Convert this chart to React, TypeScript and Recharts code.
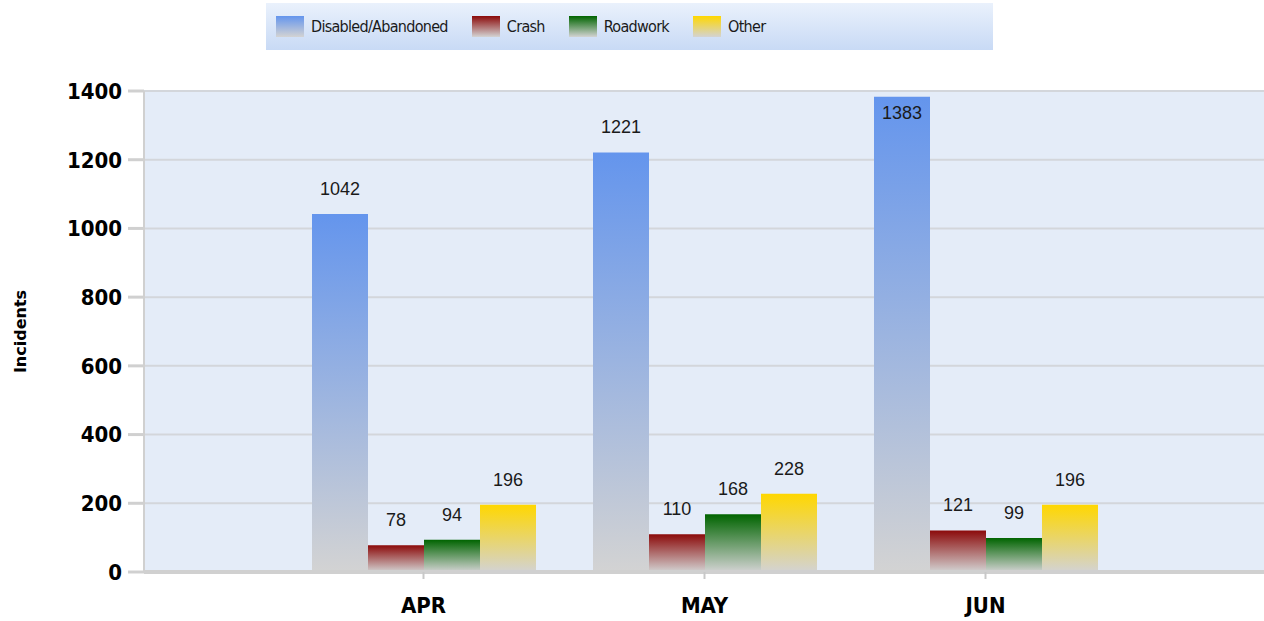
import { Bar, BarChart, CartesianGrid, LabelList, Label, XAxis, YAxis } from 'recharts'

const MONTHS = ['APR', 'MAY', 'JUN']
const DISABLED = [1042, 1221, 1383]
const CRASH = [78, 110, 121]
const ROADWORK = [94, 168, 99]
const OTHER = [196, 228, 196]
const Y_TICKS = [0, 200, 400, 600, 800, 1000, 1200, 1400]

const SERIES = [
  { key: 'disabled', name: 'Disabled/Abandoned', color: '#6495ED' },
  { key: 'crash', name: 'Crash', color: '#8B0A0A' },
  { key: 'roadwork', name: 'Roadwork', color: '#006400' },
  { key: 'other', name: 'Other', color: '#FFD700' },
]

const chartData = MONTHS.map((month, i) => ({
  month,
  disabled: DISABLED[i],
  crash: CRASH[i],
  roadwork: ROADWORK[i],
  other: OTHER[i],
}))

const PLOT_TOP = 91
const COND = '"DejaVu Sans Condensed", "DejaVu Sans", sans-serif'

function ValueLabel(props: any) {
  const { x, y, width, value } = props
  const cx = x + width / 2
  const inside = y - 32 < PLOT_TOP
  return (
    <text
      x={cx}
      y={inside ? y + 22 : y - 19}
      textAnchor="middle"
      fontFamily='"Liberation Sans", Arial, sans-serif'
      fontSize={18}
      fill="#1a1a1a"
    >
      {value}
    </text>
  )
}

function ChartLegend() {
  return (
    <div
      style={{
        position: 'absolute',
        left: 266,
        top: 3,
        width: 727,
        height: 47,
        boxSizing: 'border-box',
        paddingLeft: 10,
        display: 'flex',
        alignItems: 'center',
        background: 'linear-gradient(#EAF1FC, #C8DAF5)',
        fontFamily: COND,
        fontSize: 16,
        letterSpacing: -0.7,
        color: '#1a1a1a',
      }}
    >
      {SERIES.map((s) => (
        <div key={s.key} style={{ display: 'flex', alignItems: 'center', marginRight: 24 }}>
          <span
            style={{
              display: 'inline-block',
              width: 28,
              height: 21,
              marginRight: 7,
              background: `linear-gradient(${s.color}, #D3D3D3)`,
            }}
          />
          <span>{s.name}</span>
        </div>
      ))}
    </div>
  )
}

export default function App() {
  return (
    <div style={{ position: 'absolute', left: 0, top: 0, width: 1264, height: 621, background: '#fff' }}>
      <ChartLegend />
      <BarChart
        width={1264}
        height={621}
        data={chartData}
        margin={{ top: PLOT_TOP, right: 0, bottom: 0, left: 0 }}
        barGap={0}
        barSize={56}
      >
        <defs>
          {SERIES.map((s) => (
            <linearGradient key={s.key} id={`grad-${s.key}`} x1="0" y1="0" x2="0" y2="1">
              <stop offset="0%" stopColor={s.color} />
              <stop offset="100%" stopColor="#D3D3D3" />
            </linearGradient>
          ))}
        </defs>
        <CartesianGrid vertical={false} fill="#E4ECF8" stroke="#D3D6DB" strokeWidth={2} />
        <XAxis
          dataKey="month"
          height={49}
          padding={{ left: 139, right: 138 }}
          axisLine={{ stroke: '#D0D0D0', strokeWidth: 4 }}
          tickLine={{ stroke: '#C8C8C8', strokeWidth: 2 }}
          tickSize={7}
          tickMargin={18}
          tick={{ fill: '#000', fontSize: 22, fontWeight: 'bold', fontFamily: COND }}
        />
        <YAxis
          width={144}
          domain={[0, 1400]}
          ticks={Y_TICKS}
          interval={0}
          axisLine={{ stroke: '#D0D0D0', strokeWidth: 2 }}
          tickLine={{ stroke: '#D0D0D0', strokeWidth: 3 }}
          tickSize={16}
          tickMargin={6}
          tick={{ fill: '#000', fontSize: 22, fontWeight: 'bold', fontFamily: COND }}
        >
          <Label
            value="Incidents"
            angle={-90}
            position="insideLeft"
            offset={20}
            style={{ textAnchor: 'middle', fontSize: 16, fontWeight: 'bold', fontFamily: '"DejaVu Sans", sans-serif', fill: '#000' }}
          />
        </YAxis>
        {SERIES.map((s) => (
          <Bar key={s.key} dataKey={s.key} name={s.name} fill={`url(#grad-${s.key})`} isAnimationActive={false}>
            <LabelList dataKey={s.key} content={ValueLabel} />
          </Bar>
        ))}
      </BarChart>
    </div>
  )
}
